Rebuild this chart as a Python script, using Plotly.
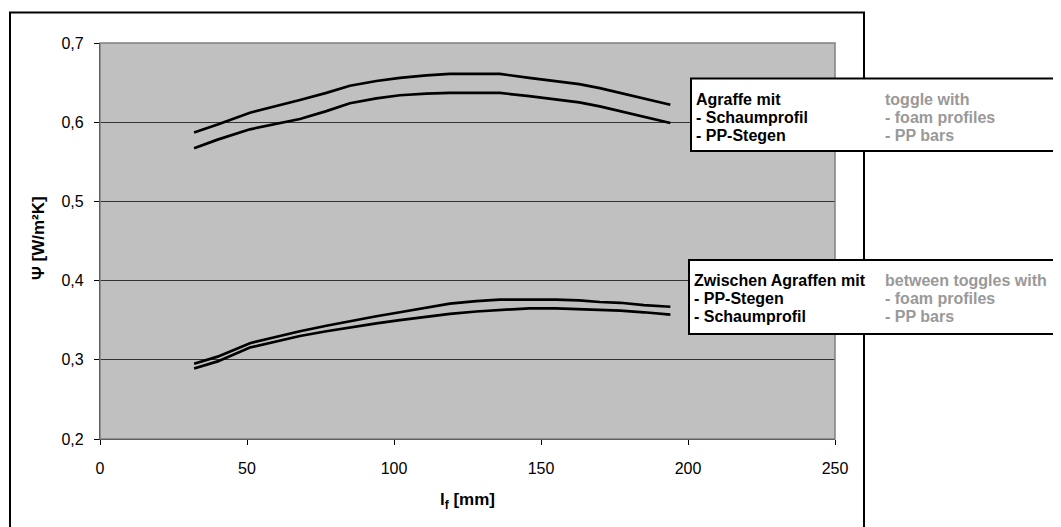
import plotly.graph_objects as go

# ---------------- data ----------------
lf_mm = [32, 40, 51, 60, 68, 77, 85, 94, 102, 111, 119, 128, 136, 146, 155, 163, 170, 177, 185, 194]

agraffe_schaum = [0.587, 0.597, 0.612, 0.620, 0.628, 0.637, 0.646, 0.652, 0.656, 0.659,
                  0.661, 0.661, 0.661, 0.656, 0.652, 0.648, 0.643, 0.637, 0.630, 0.622]
agraffe_pp = [0.567, 0.578, 0.591, 0.598, 0.604, 0.614, 0.624, 0.630, 0.634, 0.636,
              0.637, 0.637, 0.637, 0.633, 0.629, 0.625, 0.620, 0.614, 0.607, 0.599]
zwischen_pp = [0.295, 0.304, 0.321, 0.329, 0.336, 0.343, 0.349, 0.355, 0.360, 0.366,
               0.371, 0.374, 0.376, 0.376, 0.376, 0.375, 0.373, 0.372, 0.369, 0.367]
zwischen_schaum = [0.289, 0.298, 0.3155, 0.323, 0.330, 0.336, 0.341, 0.346, 0.350, 0.354,
                   0.358, 0.361, 0.363, 0.365, 0.365, 0.364, 0.363, 0.362, 0.360, 0.357]

x_ticks = [0, 50, 100, 150, 200, 250]
y_ticks = [0.2, 0.3, 0.4, 0.5, 0.6, 0.7]

legend1_de = ["Agraffe mit", "- Schaumprofil", "- PP-Stegen"]
legend1_en = ["toggle with", "- foam profiles", "- PP bars"]
legend2_de = ["Zwischen Agraffen mit", "- PP-Stegen", "- Schaumprofil"]
legend2_en = ["between toggles with", "- foam profiles", "- PP bars"]

# ---------------- layout geometry (page pixels) ----------------
OFF = 8                      # browser body margin
PAGE_W, PAGE_H = 1061, 527
W, H = PAGE_W - OFF, PAGE_H - OFF
PL, PR, PT, PB = 100, 835, 43, 439  # plot area edges in page pixels


def px(x):
    return (x - PL) / (PR - PL)


def py(y):
    return (PB - y) / (PB - PT)


FONT = "Liberation Sans, Arial, sans-serif"

fig = go.Figure()
for ys in [agraffe_schaum, agraffe_pp, zwischen_pp, zwischen_schaum]:
    fig.add_trace(go.Scatter(x=lf_mm, y=ys, mode="lines",
                             line=dict(color="black", width=2.7),
                             showlegend=False, hoverinfo="skip"))

shapes = [
    # outer chart frame
    dict(type="rect", xref="paper", yref="paper", x0=px(10), x1=px(864), y0=py(560), y1=py(12.5),
         line=dict(color="black", width=2), fillcolor="rgba(0,0,0,0)", layer="below"),
    # plot area border (top/right gray)
    dict(type="rect", xref="paper", yref="paper", x0=0, x1=1, y0=0, y1=1,
         line=dict(color="#808080", width=1.5), fillcolor="rgba(0,0,0,0)", layer="above"),
    # legend box 1
    dict(type="rect", xref="paper", yref="paper", x0=px(691), x1=px(1100), y0=py(151), y1=py(78.5),
         line=dict(color="black", width=2), fillcolor="white", layer="above"),
    # legend box 2
    dict(type="rect", xref="paper", yref="paper", x0=px(689), x1=px(1100), y0=py(334), y1=py(260),
         line=dict(color="black", width=2), fillcolor="white", layer="above"),
]

ann = []
for lines, x, y0, col in [
    (legend1_de, 695, 99, "black"),
    (legend1_en, 884, 99, "#999999"),
    (legend2_de, 693, 280, "black"),
    (legend2_en, 884, 280, "#999999"),
]:
    for i, t in enumerate(lines):
        ann.append(dict(text="<b>" + t + "</b>", xref="paper", yref="paper",
                        x=px(x), y=py(y0 + 18 * i),
                        xanchor="left", yanchor="middle", align="left", showarrow=False,
                        borderpad=0,
                        font=dict(family=FONT, size=16, color=col)))

# axis titles
ann.append(dict(text="<b>l<sub>f</sub> [mm]</b>", xref="paper", yref="paper",
                x=0.5, y=py(501), xanchor="center", yanchor="middle", showarrow=False,
                font=dict(family=FONT, size=17, color="black")))
ann.append(dict(text="<b>Ψ [W/m²K]</b>", xref="paper", yref="paper",
                x=px(38), y=py(238), xanchor="center", yanchor="middle", showarrow=False,
                textangle=-90, font=dict(family=FONT, size=17, color="black")))

fig.update_layout(
    width=W, height=H,
    margin=dict(l=PL - OFF, r=PAGE_W - PR, t=PT - OFF, b=PAGE_H - PB, pad=0),
    paper_bgcolor="white", plot_bgcolor="#C0C0C0",
    separators=",.",
    font=dict(family=FONT, size=16, color="black"),
    shapes=shapes, annotations=ann,
    showlegend=False,
)
fig.update_xaxes(range=[0, 250], tickvals=x_ticks, ticks="outside", ticklen=5, tickcolor="black",
                 showline=True, linecolor="black", linewidth=1.2, showgrid=False, zeroline=False,
                 tickfont=dict(family=FONT, size=16, color="black"), ticklabelstandoff=10)
fig.update_yaxes(range=[0.2, 0.7], tickvals=y_ticks, tickformat=".1f", ticks="outside", ticklen=5,
                 tickcolor="black", showline=True, linecolor="black", linewidth=1.2,
                 showgrid=True, gridcolor="#333333", gridwidth=1, zeroline=False,
                 tickfont=dict(family=FONT, size=16, color="black"), ticklabelstandoff=7)

fig.write_html("out.html")
